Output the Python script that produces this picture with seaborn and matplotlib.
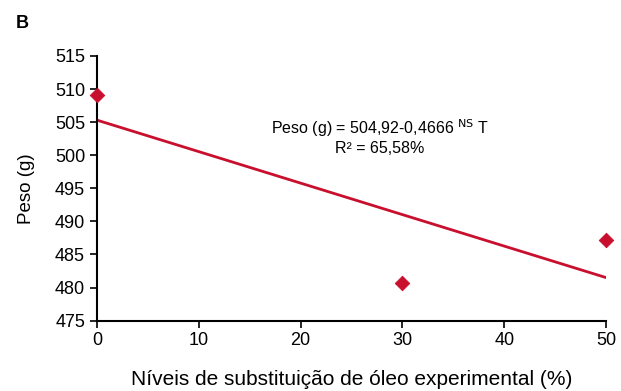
import numpy as np
import pandas as pd
import seaborn as sns
import matplotlib.pyplot as plt
from matplotlib import font_manager

# Observed means
niveis = [0, 30, 50]
peso = [509.1, 480.7, 487.2]

# Regression line endpoints as drawn
fit_x = [0, 50]
fit_y = [505.3, 481.5]

x_ticks = [0, 10, 20, 30, 40, 50]
y_ticks = [475, 480, 485, 490, 495, 500, 505, 510, 515]

red = "#C8102E"

sns.set_style("ticks")
names = {f.name for f in font_manager.fontManager.ttflist}
fam = "Liberation Sans Narrow" if "Liberation Sans Narrow" in names else "Liberation Sans"
plt.rcParams["font.family"] = [fam, "DejaVu Sans"]
plt.rcParams["text.color"] = "black"
plt.rcParams["axes.labelcolor"] = "black"

df = pd.DataFrame({"nivel": niveis, "peso": peso})
fit = pd.DataFrame({"nivel": fit_x, "peso": fit_y})

fig, ax = plt.subplots(figsize=(6.21, 3.91), dpi=100)
fig.subplots_adjust(left=0.156, right=0.976, top=0.857, bottom=0.18)

sns.lineplot(data=fit, x="nivel", y="peso", color=red, linewidth=2, ax=ax)
sns.scatterplot(data=df, x="nivel", y="peso", marker="D", s=55, color=red,
                edgecolor=red, clip_on=False, zorder=5, ax=ax)

ax.set_xlim(0, 50)
ax.set_ylim(475, 515)
ax.set_xticks(x_ticks)
ax.set_yticks(y_ticks)
ax.tick_params(axis="both", labelsize=13, length=5, width=1.2, colors="black", direction="out")
for s in ["left", "bottom"]:
    ax.spines[s].set_linewidth(1.5)
    ax.spines[s].set_color("black")
sns.despine(ax=ax)

ax.set_xlabel("Níveis de substituição de óleo experimental (%)", fontsize=15, labelpad=15, color="black")
ax.set_ylabel("Peso (g)", fontsize=13.5, labelpad=14, color="black")

ax.text(27.8, 504.1, "Peso (g) = 504,92-0,4666 $^{\\mathrm{NS}}$ T", ha="center", va="center", fontsize=11.5)
ax.text(27.8, 501.0, "R² = 65,58%", ha="center", va="center", fontsize=11.5)

fig.text(0.025, 0.94, "B", fontsize=13, fontweight="bold", ha="left", va="center")

fig.savefig("out.png", dpi=100)
